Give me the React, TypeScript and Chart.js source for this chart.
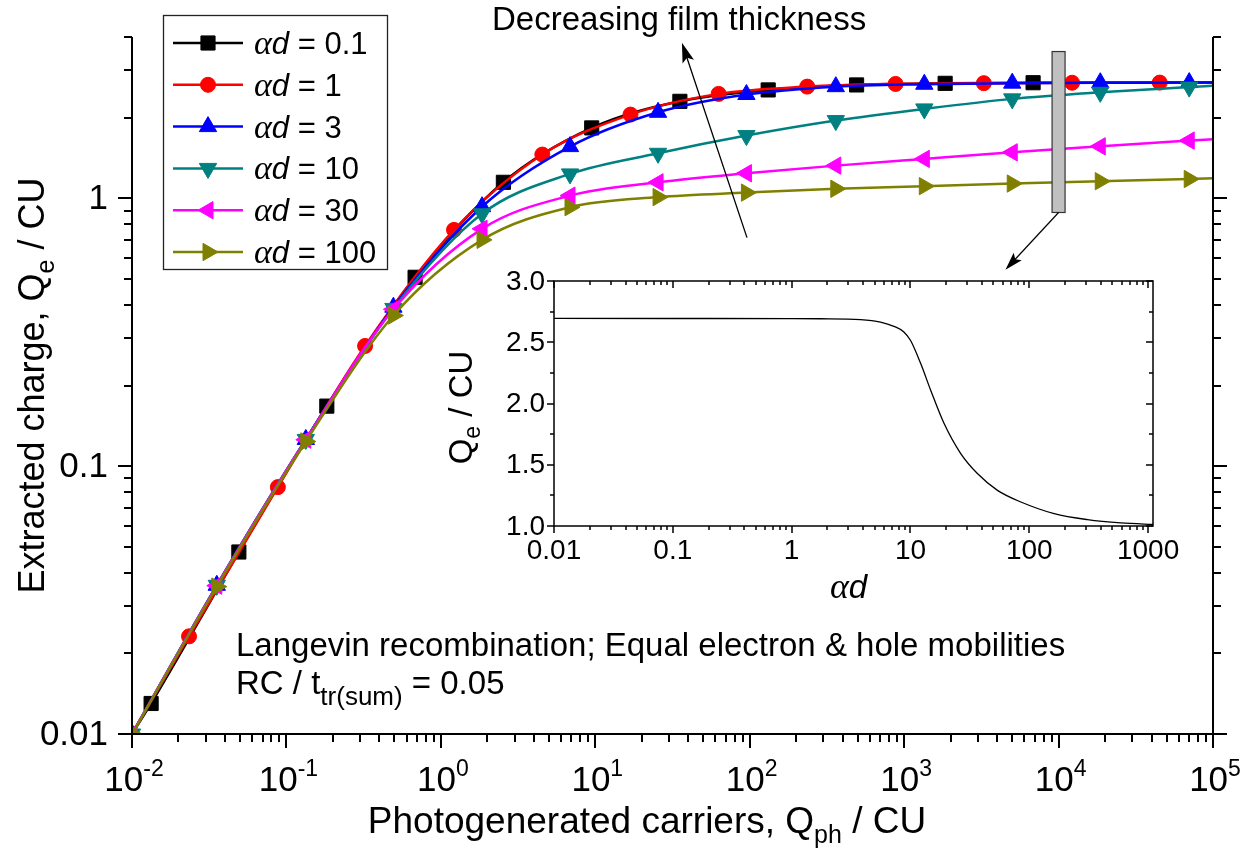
import React, { useEffect, useRef } from 'react';
import { Chart, registerables } from 'chart.js';

Chart.register(...registerables);

const SANS = '"Liberation Sans", Arial, Helvetica, sans-serif';
const SERIF = '"Liberation Serif", "Times New Roman", serif';

// ---------------- main plot data ----------------
// alpha*d = 0.1 (black squares)
const X_AD01 = [0.01, 0.0133, 0.0492, 0.1826, 0.681, 2.54, 9.48, 35.3, 131.7, 492, 1843, 6839, 100000];
const Y_AD01 = [0.01, 0.013, 0.0478, 0.1675, 0.507, 1.147, 1.831, 2.301, 2.538, 2.649, 2.686, 2.7, 2.705];
const MK_AD01 = [0, 1, 1, 1, 1, 1, 1, 1, 1, 1, 1, 1, 0];

// alpha*d = 1 (red circles)
const X_AD1 = [0.01, 0.0234, 0.088, 0.323, 1.217, 4.54, 16.9, 62.9, 235.6, 880, 3281, 12230, 45190, 100000];
const Y_AD1 = [0.01, 0.02315, 0.0835, 0.281, 0.762, 1.456, 2.053, 2.453, 2.611, 2.672, 2.69, 2.7, 2.703, 2.705];
const MK_AD1 = [0, 1, 1, 1, 1, 1, 1, 1, 1, 1, 1, 1, 1, 0];

// triangle series share the same sampling in Q_ph
const X_TRI = [0.01, 0.0354, 0.1335, 0.4928, 1.848, 6.86, 25.5, 95.2, 361, 1351, 5012, 18620, 70150, 100000];
const MK_TRI = [1, 1, 1, 1, 1, 1, 1, 1, 1, 1, 1, 1, 1, 0];
const Y_AD3 = [0.01, 0.0359, 0.1258, 0.392, 0.93, 1.559, 2.094, 2.44, 2.61, 2.665, 2.69, 2.7, 2.703, 2.705];
const Y_AD10 = [0.01, 0.0359, 0.1258, 0.388, 0.875, 1.233, 1.472, 1.714, 1.95, 2.156, 2.35, 2.486, 2.6, 2.63];
const Y_AD30 = [0.01, 0.0358, 0.1255, 0.385, 0.769, 1.023, 1.147, 1.24, 1.324, 1.403, 1.484, 1.563, 1.642, 1.66];
const Y_AD100 = [0.01, 0.0355, 0.1236, 0.365, 0.6995, 0.926, 1.01, 1.05, 1.085, 1.11, 1.135, 1.158, 1.18, 1.187];

const LEGEND_VALUES = ['0.1', '1', '3', '10', '30', '100'];

// axis ticks
const X_TICKS = [0.01, 0.1, 1, 10, 100, 1000, 10000, 100000];
const X_TICK_EXP = ['-2', '-1', '0', '1', '2', '3', '4', '5'];
const Y_TICKS = [0.01, 0.1, 1];
const Y_TICK_LABELS = ['0.01', '0.1', '1'];
const X_MIN = 0.01, X_MAX = 100000, Y_MIN = 0.01, Y_MAX = 4;

// ---------------- inset data ----------------
const X_INSET = [0.01, 0.1, 1, 1.75, 3.8, 5.6, 7.26, 8.8, 10, 12.2, 14.8, 19.2, 26.5, 36.6, 54, 85, 162, 309, 590, 1020, 1100];
const Y_INSET = [2.695, 2.694, 2.693, 2.692, 2.685, 2.665, 2.63, 2.584, 2.516, 2.326, 2.108, 1.836, 1.591, 1.428, 1.291, 1.196, 1.101, 1.052, 1.025, 1.014, 1.013];
const INSET_X_TICKS = [0.01, 0.1, 1, 10, 100, 1000];
const INSET_X_LABELS = ['0.01', '0.1', '1', '10', '100', '1000'];
const INSET_Y_TICKS = [1, 1.5, 2, 2.5, 3];
const INSET_Y_LABELS = ['1.0', '1.5', '2.0', '2.5', '3.0'];
const INSET_Y_MINOR = [1.25, 1.75, 2.25, 2.75];

// annotation anchors in data coordinates
const SLICE_X = 10000;
const SLICE_Y = [0.885, 3.53];
const SLICE_ARROW_TIP = [4530, 0.541];
const TREND_ARROW = [[96, 0.713], [36.4, 3.81]];

// ---------------- styles ----------------
const STYLES = [
  { color: '#000000', style: 'rect', rot: 0, r: 10 },
  { color: '#ff0000', style: 'circle', rot: 0, r: 7.5 },
  { color: '#0000ff', style: 'triangle', rot: 0, r: 10 },
  { color: '#008080', style: 'triangle', rot: 180, r: 10 },
  { color: '#ff00ff', style: 'triangle', rot: -90, r: 10 },
  { color: '#808000', style: 'triangle', rot: 90, r: 10 },
];

const SERIES = [
  { x: X_AD01, y: Y_AD01, mk: MK_AD01 },
  { x: X_AD1, y: Y_AD1, mk: MK_AD1 },
  { x: X_TRI, y: Y_AD3, mk: MK_TRI },
  { x: X_TRI, y: Y_AD10, mk: MK_TRI },
  { x: X_TRI, y: Y_AD30, mk: MK_TRI },
  { x: X_TRI, y: Y_AD100, mk: MK_TRI },
];

function logMinor(min: number, max: number) {
  const out: number[] = [];
  for (let e = Math.floor(Math.log10(min)); e <= Math.ceil(Math.log10(max)); e++) {
    for (let m = 2; m <= 9; m++) {
      const v = m * Math.pow(10, e);
      if (v >= min * 0.999 && v <= max * 1.001) out.push(v);
    }
  }
  return out;
}

function drawMarker(ctx: CanvasRenderingContext2D, style: string, rot: number, r: number, x: number, y: number, color: string) {
  ctx.save();
  ctx.fillStyle = color;
  ctx.strokeStyle = color;
  ctx.lineWidth = 1;
  ctx.beginPath();
  if (style === 'circle') {
    ctx.arc(x, y, r, 0, Math.PI * 2);
  } else if (style === 'rect') {
    const s = Math.SQRT1_2 * r;
    ctx.rect(x - s, y - s, 2 * s, 2 * s);
  } else {
    let a = (rot * Math.PI) / 180;
    ctx.moveTo(x + Math.sin(a) * r, y - Math.cos(a) * r);
    a += (2 * Math.PI) / 3;
    ctx.lineTo(x + Math.sin(a) * r, y - Math.cos(a) * r);
    a += (2 * Math.PI) / 3;
    ctx.lineTo(x + Math.sin(a) * r, y - Math.cos(a) * r);
    ctx.closePath();
  }
  ctx.fill();
  ctx.stroke();
  ctx.restore();
}

type Seg = { t: string; font: string; dy?: number };
function richWidth(ctx: CanvasRenderingContext2D, segs: Seg[]) {
  let w = 0;
  for (const s of segs) {
    ctx.font = s.font;
    w += ctx.measureText(s.t).width;
  }
  return w;
}
function drawRich(ctx: CanvasRenderingContext2D, segs: Seg[], x: number, y: number, align: string) {
  const w = richWidth(ctx, segs);
  let cx = align === 'center' ? x - w / 2 : align === 'right' ? x - w : x;
  ctx.textAlign = 'left';
  ctx.textBaseline = 'alphabetic';
  for (const s of segs) {
    ctx.font = s.font;
    ctx.fillText(s.t, cx, y + (s.dy || 0));
    cx += ctx.measureText(s.t).width;
  }
}

function arrow(ctx: CanvasRenderingContext2D, x1: number, y1: number, x2: number, y2: number, len: number, hw: number) {
  const ang = Math.atan2(y2 - y1, x2 - x1);
  const c = Math.cos(ang), s = Math.sin(ang);
  ctx.beginPath();
  ctx.moveTo(x1, y1);
  ctx.lineTo(x2 - c * len * 0.7, y2 - s * len * 0.7);
  ctx.stroke();
  ctx.beginPath();
  ctx.moveTo(x2, y2);
  ctx.lineTo(x2 - c * len + s * hw, y2 - s * len - c * hw);
  ctx.lineTo(x2 - c * len * 0.8, y2 - s * len * 0.8);
  ctx.lineTo(x2 - c * len - s * hw, y2 - s * len + c * hw);
  ctx.closePath();
  ctx.fill();
}

function hTicks(ctx: CanvasRenderingContext2D, pos: number[], y0: number, dir: number, len: number) {
  ctx.beginPath();
  for (const p of pos) {
    ctx.moveTo(p, y0);
    ctx.lineTo(p, y0 + dir * len);
  }
  ctx.stroke();
}
function vTicks(ctx: CanvasRenderingContext2D, pos: number[], x0: number, dir: number, len: number) {
  ctx.beginPath();
  for (const p of pos) {
    ctx.moveTo(x0, p);
    ctx.lineTo(x0 + dir * len, p);
  }
  ctx.stroke();
}

const alphaD = (size: number): Seg[] => [
  { t: '\u03B1', font: `italic ${Math.round(size * 1.1)}px ${SERIF}` },
  { t: 'd', font: `italic ${size}px ${SANS}` },
];

const mainDecor = {
  id: 'mainDecor',
  afterDraw(chart: any) {
    const { ctx, chartArea: a, scales } = chart;
    const xs = scales.x, ys = scales.y;
    ctx.save();
    ctx.strokeStyle = '#000';
    ctx.fillStyle = '#000';
    ctx.lineWidth = 2;
    const L = Math.round(a.left), R = Math.round(a.right), T = Math.round(a.top), B = Math.round(a.bottom);
    ctx.beginPath();
    ctx.moveTo(L, T);
    ctx.lineTo(L, B + 1);
    ctx.moveTo(L - 1, B);
    ctx.lineTo(R + 1, B);
    ctx.moveTo(R, T);
    ctx.lineTo(R, B + 1);
    ctx.stroke();

    const yMaj = Y_TICKS.map((v) => Math.round(ys.getPixelForValue(v)));
    const yMin = logMinor(Y_MIN, Y_MAX).map((v) => Math.round(ys.getPixelForValue(v)));
    vTicks(ctx, yMaj, L, -1, 14);
    vTicks(ctx, yMin, L, -1, 8);
    vTicks(ctx, yMaj, R, 1, 14);
    vTicks(ctx, yMin, R, 1, 8);
    const xMaj = X_TICKS.map((v) => Math.round(xs.getPixelForValue(v)));
    const xMin = logMinor(X_MIN, X_MAX).map((v) => Math.round(xs.getPixelForValue(v)));
    hTicks(ctx, xMaj, B, 1, 14);
    hTicks(ctx, xMin, B, 1, 8);

    // y tick labels
    ctx.font = `35px ${SANS}`;
    ctx.textAlign = 'right';
    ctx.textBaseline = 'middle';
    Y_TICKS.forEach((v, i) => {
      ctx.fillText(Y_TICK_LABELS[i], L - 24, ys.getPixelForValue(v) + 1);
    });
    // x tick labels: 10^n
    X_TICKS.forEach((v, i) => {
      const px = xs.getPixelForValue(v);
      drawRich(ctx, [
        { t: '10', font: `35px ${SANS}` },
        { t: X_TICK_EXP[i], font: `23px ${SANS}`, dy: -15 },
      ], px + 2, B + 57, 'center');
    });

    // axis titles
    drawRich(ctx, [
      { t: 'Photogenerated carriers, Q', font: `37px ${SANS}` },
      { t: 'ph', font: `25px ${SANS}`, dy: 10 },
      { t: ' / CU', font: `37px ${SANS}` },
    ], 647, 833, 'center');
    ctx.save();
    ctx.translate(44, (T + B) / 2);
    ctx.rotate(-Math.PI / 2);
    drawRich(ctx, [
      { t: 'Extracted charge, Q', font: `36px ${SANS}` },
      { t: 'e', font: `25px ${SANS}`, dy: 10 },
      { t: ' / CU', font: `36px ${SANS}` },
    ], 0, 0, 'center');
    ctx.restore();

    // legend
    ctx.lineWidth = 1.3;
    ctx.strokeStyle = '#222';
    ctx.strokeRect(163.5, 15.5, 224, 254);
    LEGEND_VALUES.forEach((lab, i) => {
      const st = STYLES[i];
      const y = 43 + i * 41.8;
      ctx.strokeStyle = st.color;
      ctx.lineWidth = 2.5;
      ctx.beginPath();
      ctx.moveTo(173, y);
      ctx.lineTo(243, y);
      ctx.stroke();
      drawMarker(ctx, st.style, st.rot, st.r, 208, y, st.color);
      ctx.fillStyle = '#000';
      drawRich(ctx, [...alphaD(31), { t: ' = ' + lab, font: `31px ${SANS}` }], 254, y + 11, 'left');
    });

    // annotations
    ctx.fillStyle = '#000';
    ctx.strokeStyle = '#000';
    ctx.font = `33px ${SANS}`;
    ctx.textAlign = 'left';
    ctx.textBaseline = 'alphabetic';
    ctx.fillText('Decreasing film thickness', 492, 30, 380);
    ctx.fillText('Langevin recombination; Equal electron & hole mobilities', 236, 656, 842);
    drawRich(ctx, [
      { t: 'RC / t', font: `33px ${SANS}` },
      { t: 'tr(sum)', font: `26px ${SANS}`, dy: 11 },
      { t: ' = 0.05', font: `33px ${SANS}` },
    ], 236, 694, 'left');

    ctx.lineWidth = 1.3;
    const a1 = TREND_ARROW[0], a2 = TREND_ARROW[1];
    arrow(ctx, xs.getPixelForValue(a1[0]), ys.getPixelForValue(a1[1]), xs.getPixelForValue(a2[0]), ys.getPixelForValue(a2[1]), 20, 6);

    const sx = xs.getPixelForValue(SLICE_X);
    const sy1 = ys.getPixelForValue(SLICE_Y[1]);
    const sy0 = ys.getPixelForValue(SLICE_Y[0]);
    ctx.fillStyle = '#c0c0c0';
    ctx.fillRect(sx - 6.5, sy1, 13, sy0 - sy1);
    ctx.strokeStyle = '#333';
    ctx.lineWidth = 1.2;
    ctx.strokeRect(sx - 6.5, sy1, 13, sy0 - sy1);
    ctx.fillStyle = '#000';
    ctx.strokeStyle = '#000';
    ctx.lineWidth = 1.2;
    arrow(ctx, sx, sy0, xs.getPixelForValue(SLICE_ARROW_TIP[0]), ys.getPixelForValue(SLICE_ARROW_TIP[1]), 18, 5.5);
    ctx.restore();
  },
};

const insetDecor = {
  id: 'insetDecor',
  afterDraw(chart: any) {
    const { ctx, chartArea: a, scales } = chart;
    const xs = scales.x, ys = scales.y;
    ctx.save();
    ctx.strokeStyle = '#000';
    ctx.fillStyle = '#000';
    ctx.lineWidth = 1.5;
    const L = Math.round(a.left), R = Math.round(a.right), T = Math.round(a.top), B = Math.round(a.bottom);
    ctx.strokeRect(L, T, R - L, B - T);
    const xMaj = INSET_X_TICKS.map((v) => Math.round(xs.getPixelForValue(v)));
    const xMin = logMinor(0.01, 1100).map((v) => Math.round(xs.getPixelForValue(v)));
    const yMaj = INSET_Y_TICKS.map((v) => Math.round(ys.getPixelForValue(v)));
    const yMin = INSET_Y_MINOR.map((v) => Math.round(ys.getPixelForValue(v)));
    hTicks(ctx, xMaj, B, 1, 7);
    hTicks(ctx, xMin, B, 1, 4);
    hTicks(ctx, xMaj, T, 1, 7);
    hTicks(ctx, xMin, T, 1, 4);
    vTicks(ctx, yMaj, L, -1, 7);
    vTicks(ctx, yMin, L, -1, 4);
    vTicks(ctx, yMaj, R, -1, 7);
    vTicks(ctx, yMin, R, -1, 4);

    ctx.font = `28px ${SANS}`;
    ctx.textAlign = 'right';
    ctx.textBaseline = 'middle';
    INSET_Y_TICKS.forEach((v, i) => ctx.fillText(INSET_Y_LABELS[i], L - 9, ys.getPixelForValue(v) + 1));
    ctx.textAlign = 'center';
    ctx.textBaseline = 'alphabetic';
    INSET_X_TICKS.forEach((v, i) => ctx.fillText(INSET_X_LABELS[i], xs.getPixelForValue(v), B + 33));

    drawRich(ctx, alphaD(33), (L + R) / 2 - 5, B + 72, 'center');
    ctx.save();
    ctx.translate(L - 82, (T + B) / 2 + 4);
    ctx.rotate(-Math.PI / 2);
    drawRich(ctx, [
      { t: 'Q', font: `33px ${SANS}` },
      { t: 'e', font: `23px ${SANS}`, dy: 8 },
      { t: ' / CU', font: `33px ${SANS}` },
    ], 0, 0, 'center');
    ctx.restore();
    ctx.restore();
  },
};

function mainConfig(): any {
  const datasets = SERIES.map((s, i) => {
    const st = STYLES[i];
    return {
      label: 'ad = ' + LEGEND_VALUES[i],
      data: s.x.map((x, j) => ({ x, y: s.y[j] })),
      borderColor: st.color,
      backgroundColor: st.color,
      pointBackgroundColor: st.color,
      pointBorderColor: st.color,
      borderWidth: 2.5,
      pointBorderWidth: 1,
      pointStyle: st.style,
      pointRotation: st.rot,
      pointRadius: s.mk.map((m) => (m ? st.r : 0)),
      pointHoverRadius: s.mk.map((m) => (m ? st.r : 0)),
      cubicInterpolationMode: 'monotone',
      fill: false,
      order: SERIES.length - i,
    };
  });
  return {
    type: 'line',
    data: { datasets },
    options: {
      responsive: false,
      animation: false,
      devicePixelRatio: 1,
      events: [],
      layout: { padding: { left: 132, right: 37, top: 37, bottom: 119 } },
      scales: {
        x: { type: 'logarithmic', min: X_MIN, max: X_MAX, display: false },
        y: { type: 'logarithmic', min: Y_MIN, max: Y_MAX, display: false },
      },
      plugins: { legend: { display: false }, tooltip: { enabled: false } },
    },
    plugins: [mainDecor],
  };
}

function insetConfig(): any {
  return {
    type: 'line',
    data: {
      datasets: [
        {
          label: 'inset',
          data: X_INSET.map((x, j) => ({ x, y: Y_INSET[j] })),
          borderColor: '#000',
          borderWidth: 1.3,
          pointRadius: 0,
          cubicInterpolationMode: 'monotone',
          fill: false,
        },
      ],
    },
    options: {
      responsive: false,
      animation: false,
      devicePixelRatio: 1,
      events: [],
      layout: { padding: { left: 554, right: 97, top: 281, bottom: 327 } },
      scales: {
        x: { type: 'logarithmic', min: 0.01, max: 1100, display: false },
        y: { type: 'linear', min: 1, max: 3, display: false },
      },
      plugins: { legend: { display: false }, tooltip: { enabled: false } },
    },
    plugins: [insetDecor],
  };
}

export default function App() {
  const mainRef = useRef<HTMLCanvasElement>(null);
  const insetRef = useRef<HTMLCanvasElement>(null);
  useEffect(() => {
    const c1 = new Chart(mainRef.current as HTMLCanvasElement, mainConfig());
    const c2 = new Chart(insetRef.current as HTMLCanvasElement, insetConfig());
    return () => {
      c1.destroy();
      c2.destroy();
    };
  }, []);
  const cs: React.CSSProperties = { position: 'absolute', left: 0, top: 0, width: 1250, height: 853 };
  return (
    <div style={{ position: 'absolute', left: 0, top: 0, width: 1250, height: 853, background: '#fff' }}>
      <canvas ref={mainRef} width={1250} height={853} style={cs} />
      <canvas ref={insetRef} width={1250} height={853} style={cs} />
    </div>
  );
}
